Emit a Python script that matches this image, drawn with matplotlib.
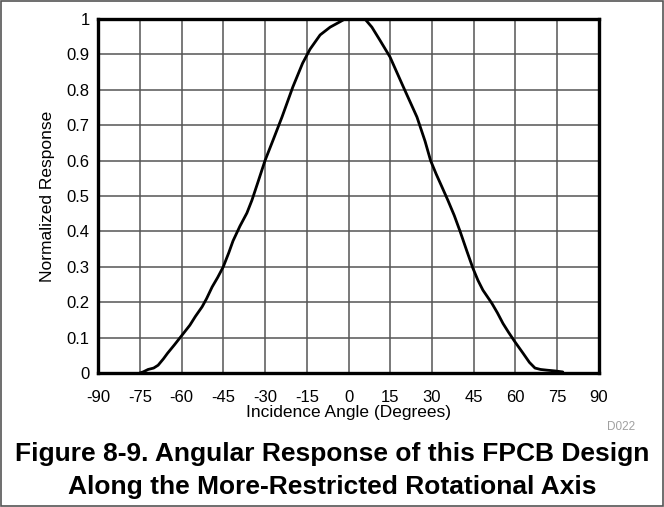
import matplotlib.pyplot as plt
from matplotlib.patches import Rectangle

# angle (degrees) and normalized response
ANGLE = [-75, -73.8, -72, -70, -68.4, -66.5, -65, -62.5, -60.5, -58.5, -57,
         -55, -52.6, -51, -49, -47, -45, -43, -41.5, -39, -36.5, -34.7, -32.5,
         -30, -27, -23.9, -20, -16.5, -13.8, -10.2, -6.6, -3.1, -1.3, 5.9,
         8.4, 11.3, 14.9, 19.6, 24.6, 27.5, 29.5, 31.5, 33.5, 35.7, 38, 40.1,
         42.5, 44.7, 46.5, 48.3, 51.5, 53.5, 55.5, 57.5, 59.8, 62.7, 65, 67,
         69, 71.3, 74, 77]
RESPONSE = [0.0, 0.003, 0.01, 0.014, 0.022, 0.04, 0.056, 0.08, 0.10, 0.12,
            0.135, 0.16, 0.187, 0.21, 0.243, 0.27, 0.30, 0.34, 0.373, 0.415,
            0.452, 0.488, 0.54, 0.60, 0.66, 0.723, 0.808, 0.875, 0.915, 0.955,
            0.977, 0.992, 1.0, 1.0, 0.977, 0.94, 0.893, 0.81, 0.723, 0.655,
            0.60, 0.562, 0.527, 0.488, 0.445, 0.40, 0.345, 0.296, 0.262, 0.234,
            0.197, 0.17, 0.14, 0.115, 0.088, 0.056, 0.03, 0.014, 0.01, 0.008,
            0.006, 0.003]

X_TICKS = list(range(-90, 91, 15))
Y_TICKS = [i / 10 for i in range(11)]
Y_LABELS = ["0"] + [f"{v:.1f}" for v in Y_TICKS[1:-1]] + ["1"]

plt.rcParams["font.family"] = ["Liberation Sans", "DejaVu Sans"]

fig = plt.figure(figsize=(6.64, 5.07), dpi=100)
ax = fig.add_axes([0.1476, 0.2643, 0.7545, 0.6982])

ax.plot(ANGLE, RESPONSE, color="black", lw=2.0,
        solid_capstyle="round", solid_joinstyle="round")
ax.set_xlim(-90, 90)
ax.set_ylim(0, 1)
ax.set_xticks(X_TICKS)
ax.set_xticklabels([str(v) for v in X_TICKS])
ax.set_yticks(Y_TICKS)
ax.set_yticklabels(Y_LABELS)
ax.tick_params(length=0, labelsize=12)
ax.tick_params(axis="x", pad=12)
ax.tick_params(axis="y", pad=6)
ax.grid(True, color="#555555", lw=1.1)
ax.set_axisbelow(True)
for s in ax.spines.values():
    s.set_linewidth(2.4)
    s.set_color("black")

ax.set_xlabel("Incidence Angle (Degrees)", fontsize=12.5, labelpad=0)
ax.set_ylabel("Normalized Response", fontsize=12.5, labelpad=8)

fig.text(635 / 664, 1 - 427 / 507, "D022", fontsize=8.5, color="#a0a0a0",
         ha="right", va="center")
fig.text(332 / 664, 1 - 454 / 507, "Figure 8-9. Angular Response of this FPCB Design",
         fontsize=19, fontweight="bold", ha="center", va="center")
fig.text(332 / 664, 1 - 487 / 507, "Along the More-Restricted Rotational Axis",
         fontsize=19, fontweight="bold", ha="center", va="center")

fig.patches.append(Rectangle((0.001, 0.001), 0.997, 0.997, transform=fig.transFigure,
                             fill=False, edgecolor="#555555", lw=1.2))

fig.savefig("out.png", dpi=100)
